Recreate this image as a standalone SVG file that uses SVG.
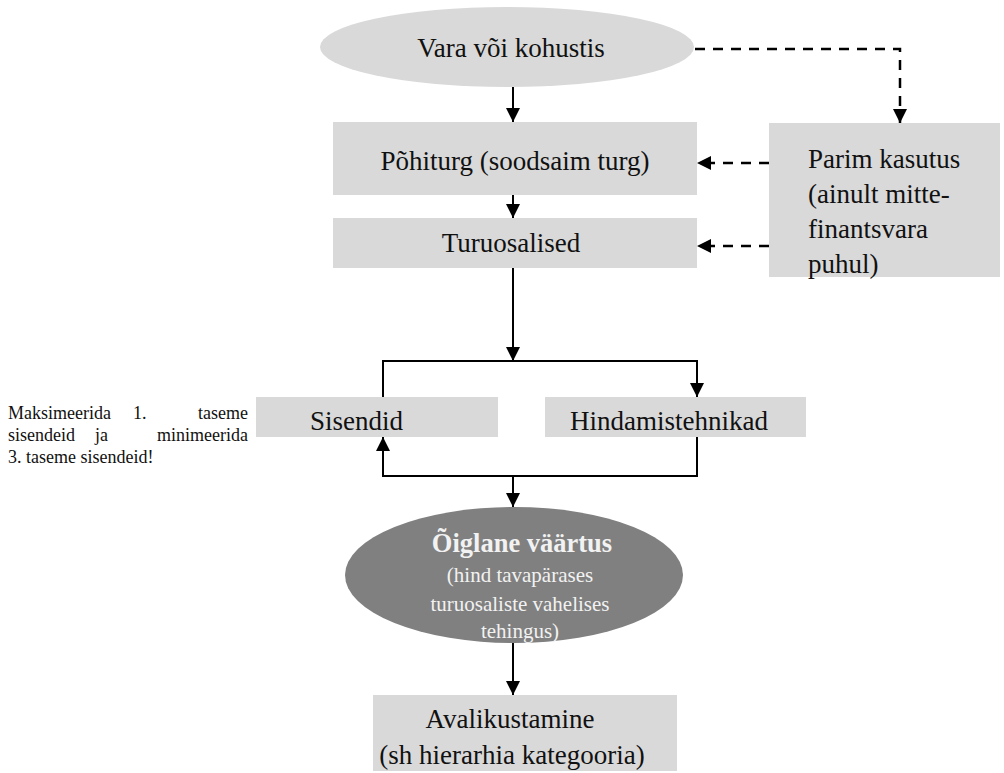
<svg xmlns="http://www.w3.org/2000/svg" width="1004" height="773" viewBox="0 0 1004 773">
<style>
.box{fill:#d9d9d9}
.t{font-family:"Liberation Serif","Times New Roman",serif;font-size:27px;fill:#111}
.s{font-family:"Liberation Serif","Times New Roman",serif;font-size:18px;fill:#111}
.w{font-family:"Liberation Serif","Times New Roman",serif;fill:#f2f2f2}
.ln{fill:none;stroke:#000;stroke-width:2}
.dash{fill:none;stroke:#000;stroke-width:2.5;stroke-dasharray:10 8}
</style>
<defs>
<marker id="ah" markerUnits="userSpaceOnUse" markerWidth="14" markerHeight="14" viewBox="0 0 14 14" refX="14" refY="7" orient="auto">
<path d="M0,0 L14,7 L0,14 Z" fill="#000"/>
</marker>
</defs>
<rect width="1004" height="773" fill="#fff"/>
<g id="connectors">
<line class="ln" x1="513" y1="87" x2="513" y2="122" marker-end="url(#ah)"/>
<line class="ln" x1="513" y1="195" x2="513" y2="218" marker-end="url(#ah)"/>
<line class="ln" x1="513" y1="268" x2="513" y2="361" marker-end="url(#ah)"/>
<polyline class="ln" points="383,397 383,361 697,361 697,397" marker-end="url(#ah)"/>
<polyline class="ln" points="697,437 697,476 383,476 383,437" marker-end="url(#ah)"/>
<line class="ln" x1="513" y1="476" x2="513" y2="507" marker-end="url(#ah)"/>
<line class="ln" x1="513" y1="643" x2="513" y2="695" marker-end="url(#ah)"/>
<polyline class="dash" points="695,49 900,49 900,123" marker-end="url(#ah)"/>
<line class="dash" x1="769" y1="163" x2="697" y2="163" marker-end="url(#ah)"/>
<line class="dash" x1="769" y1="246" x2="697" y2="246" marker-end="url(#ah)"/>
</g>
<g id="vara">
<ellipse cx="507" cy="47" rx="187" ry="40" class="box"/>
<text class="t" x="511" y="57" text-anchor="middle">Vara või kohustis</text>
</g>
<g id="pohiturg">
<rect class="box" x="333" y="122" width="364" height="73"/>
<text class="t" x="515" y="170" text-anchor="middle">Põhiturg (soodsaim turg)</text>
</g>
<g id="turuosalised">
<rect class="box" x="333" y="218" width="364" height="50"/>
<text class="t" x="511" y="252" text-anchor="middle">Turuosalised</text>
</g>
<g id="parim">
<rect class="box" x="769" y="123" width="231" height="154"/>
<text class="t" x="808" y="168">Parim kasutus</text>
<text class="t" x="808" y="203">(ainult mitte-</text>
<text class="t" x="808" y="238">finantsvara</text>
<text class="t" x="808" y="273">puhul)</text>
</g>
<g id="note">
<text class="s" x="8" y="419">Maksimeerida</text>
<text class="s" x="133" y="419">1.</text>
<text class="s" x="248" y="419" text-anchor="end">taseme</text>
<text class="s" x="8" y="441">sisendeid</text>
<text class="s" x="95" y="441">ja</text>
<text class="s" x="248" y="441" text-anchor="end">minimeerida</text>
<text class="s" x="8" y="463">3. taseme sisendeid!</text>
</g>
<g id="sisendid">
<rect class="box" x="256" y="397" width="242" height="40"/>
<text class="t" x="310" y="430">Sisendid</text>
</g>
<g id="hindamistehnikad">
<rect class="box" x="545" y="397" width="261" height="40"/>
<text class="t" x="570" y="430">Hindamistehnikad</text>
</g>
<g id="oiglane">
<ellipse cx="514" cy="575" rx="169" ry="68" fill="#808080"/>
<text class="w" x="522" y="552" text-anchor="middle" font-size="26.5" font-weight="bold">Õiglane väärtus</text>
<text class="w" x="520" y="582" text-anchor="middle" font-size="21">(hind tavapärases</text>
<text class="w" x="520" y="611" text-anchor="middle" font-size="21">turuosaliste vahelises</text>
<text class="w" x="520" y="638" text-anchor="middle" font-size="21">tehingus)</text>
</g>
<g id="avalikustamine">
<rect class="box" x="373" y="695" width="304" height="76"/>
<text class="t" x="510" y="728" text-anchor="middle">Avalikustamine</text>
<text class="t" x="512" y="764" text-anchor="middle">(sh hierarhia kategooria)</text>
</g>
</svg>
